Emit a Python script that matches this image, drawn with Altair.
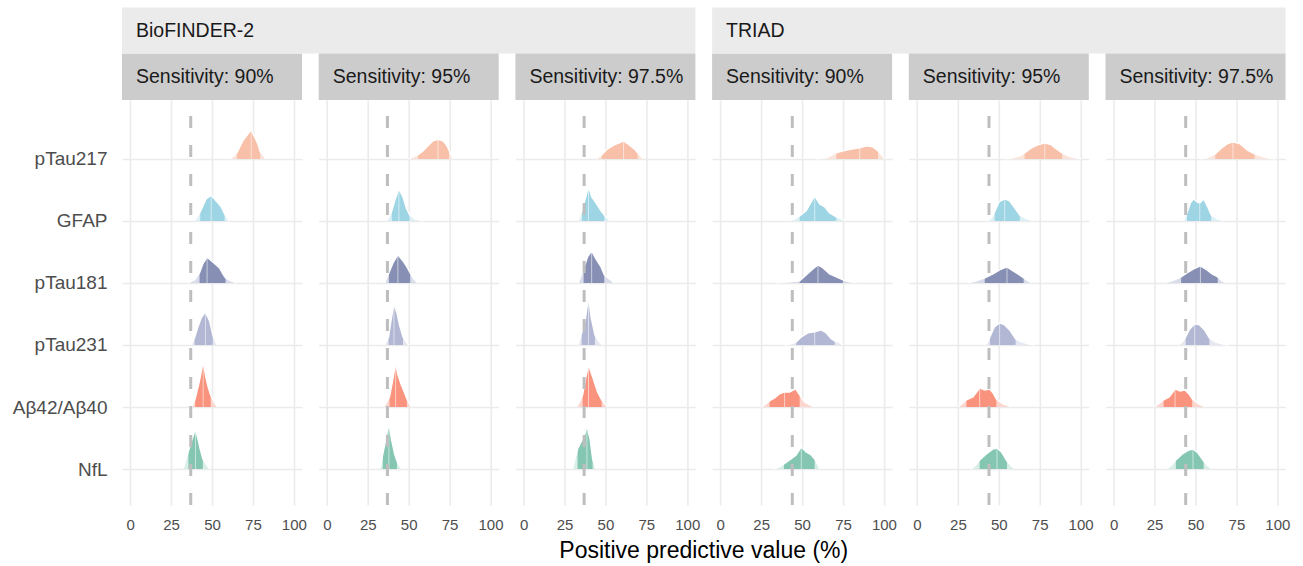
import altair as alt
import pandas as pd

markers = ["pTau217", "GFAP", "pTau181", "pTau231", "Aβ42/Aβ40", "NfL"]
positions = [6, 5, 4, 3, 2, 1]
cohorts = ["BioFINDER-2", "TRIAD"]
sensitivities = ["90%", "95%", "97.5%"]
prevalence = {"BioFINDER-2": 37.0, "TRIAD": 44.0}
x_ticks = [0, 25, 50, 75, 100]

inner_colors = ["#F9C0A9", "#9DD5E4", "#8790B4", "#B2B8D4", "#FA937E", "#84C6B2"]
outer_colors = ["#FDE4DA", "#DCF0F6", "#D9DCEA", "#E6E8F1", "#FDD7CF", "#D8EEE7"]

ROW_PX = 62.0  # ridge heights below are read in pixels of a 62-px row

# each ridge: (x values, heights in px, lower bound, median, upper bound)
bf_90 = {
    "pTau217": ([61.1, 65.2, 68.8, 74.0, 78.0, 79.5, 83.1], [0, 6, 18, 29, 15, 7, 0], 65.2, 74.0, 79.5),
    "GFAP": ([39.9, 42.8, 46.4, 49.5, 52.5, 55.6, 57.7, 60.3], [1, 9, 22, 25.7, 20, 14, 7, 0], 42.8, 49.5, 57.7),
    "pTau181": ([35.3, 39.3, 42.4, 44.4, 47.0, 50.5, 54.6, 56.6, 58.3, 61.7, 64.8], [0, 3, 10, 19, 25.7, 21, 15, 9, 5, 2, 0], 42.4, 47.0, 58.3),
    "pTau231": ([37.3, 39.3, 41.4, 43.4, 46.0, 48.5, 50.5, 53.0], [0, 7, 18, 27, 33, 24, 10, 0], 39.3, 46.0, 50.5),
    "Aβ42/Aβ40": ([37.7, 39.7, 42.2, 44.6, 46.2, 47.8, 49.2, 51.2, 53.2], [0, 8, 25, 45, 30, 19, 12, 5, 0], 39.7, 44.6, 49.2),
    "NfL": ([32.6, 35.6, 37.9, 39.9, 41.4, 42.8, 44.4, 46.4, 48.5], [1, 18, 30, 40, 30, 20, 10, 5, 0], 35.6, 39.9, 44.4),
}
bf_95 = {
    "pTau217": ([50.1, 52.6, 55.6, 58.7, 61.7, 64.8, 67.9, 70.9, 73.0, 74.6, 77.0], [0, 2, 4, 8, 13, 18, 19.5, 18, 14, 9, 0], 55.6, 67.9, 74.6),
    "GFAP": ([37.1, 39.7, 41.8, 44.0, 46.5, 48.5, 50.5, 53.6, 58.7], [1, 10, 22, 32, 24, 13, 6, 2, 0], 39.7, 44.0, 50.5),
    "pTau181": ([35.3, 37.9, 40.4, 43.4, 46.5, 48.9, 50.9, 53.0, 55.6], [0, 10, 20, 28, 22, 16, 10, 4, 0], 37.9, 43.4, 50.9),
    "pTau231": ([35.3, 37.7, 39.3, 41.0, 42.8, 44.4, 46.5, 48.5, 50.1], [0, 8, 25, 41, 32, 20, 8, 3, 0], 37.7, 41.0, 46.5),
    "Aβ42/Aβ40": ([34.9, 38.3, 40.4, 42.0, 43.4, 45.5, 47.5, 48.9, 51.6], [0, 10, 28, 44, 32, 22, 14, 8, 0], 38.3, 42.0, 48.9),
    "NfL": ([32.6, 34.2, 36.3, 37.9, 39.7, 41.4, 42.8, 44.4, 46.1], [1, 15, 32, 45, 28, 15, 8, 3, 0], 34.2, 37.9, 42.8),
}
bf_975 = {
    "pTau217": ([44.2, 47.7, 51.3, 55.4, 58.5, 61.1, 64.6, 67.6, 69.7, 73.3], [0, 4, 10, 14, 16, 18, 14, 10, 6, 0], 47.7, 61.1, 69.7),
    "GFAP": ([33.4, 35.7, 37.7, 39.7, 41.6, 44.2, 47.3, 49.3, 53.0], [0, 10, 22, 34, 24, 18, 10, 6, 0], 35.7, 39.7, 49.3),
    "pTau181": ([33.4, 36.7, 39.1, 41.6, 44.2, 47.3, 49.3, 52.4, 55.4], [0, 14, 26, 32, 24, 16, 8, 4, 0], 36.7, 41.6, 49.3),
    "pTau231": ([33.4, 35.5, 37.7, 39.7, 41.2, 43.6, 46.3, 48.3], [0, 12, 25, 48, 28, 10, 3, 0], 35.5, 39.7, 43.6),
    "Aβ42/Aβ40": ([33.0, 36.1, 38.1, 39.7, 42.2, 45.2, 47.7, 51.3], [1, 12, 30, 42, 30, 15, 7, 0], 36.1, 39.7, 47.7),
    "NfL": ([29.9, 33.0, 35.5, 37.1, 38.7, 40.6, 42.2, 44.2], [0, 20, 28, 33, 43, 30, 10, 0], 33.0, 38.7, 42.2),
}
triad_90 = {
    "pTau217": ([58.7, 64.8, 70.9, 75.0, 81.1, 85.2, 89.3, 93.3, 96.4, 100.5], [0, 1, 6, 8, 10, 11, 13, 12, 8, 0], 70.9, 85.2, 96.4),
    "GFAP": ([41.9, 45.4, 48.5, 52.5, 55.6, 57.7, 60.7, 63.8, 66.8, 70.9, 73.9, 77.0], [0, 2, 5, 10, 19, 25, 17, 14, 8, 4, 2, 0], 48.5, 57.7, 70.9),
    "pTau181": ([34.2, 42.4, 48.5, 52.5, 56.6, 59.7, 62.8, 66.8, 70.9, 75.0, 79.1, 83.1], [0, 1, 2, 8, 14, 18, 15, 9, 6, 3, 1, 0], 48.5, 59.7, 75.0),
    "pTau231": ([39.3, 43.4, 46.4, 49.5, 53.6, 57.7, 61.7, 64.8, 67.9, 69.9, 73.0, 75.0], [0, 1, 3, 8, 12, 13, 15, 12, 6, 4, 2, 0], 46.4, 57.7, 69.9),
    "Aβ42/Aβ40": ([25.0, 27.1, 30.1, 33.2, 36.2, 39.3, 42.4, 46.0, 48.5, 51.5, 54.6, 57.7], [0, 2, 6, 9, 13, 15, 15, 18, 12, 5, 2, 0], 30.1, 39.3, 48.5),
    "NfL": ([32.6, 36.2, 38.9, 42.4, 46.4, 49.5, 52.5, 55.6, 57.7, 59.7, 60.7], [0, 2, 5, 9, 14, 22, 17, 14, 10, 4, 0], 38.9, 49.5, 57.7),
}
triad_95 = {
    "pTau217": ([53.6, 58.7, 62.8, 65.8, 69.9, 74.0, 78.1, 82.1, 85.2, 88.7, 92.3, 96.4, 100.4], [0, 1, 3, 6, 11, 14, 16, 14, 10, 6, 3, 1, 0], 65.8, 78.1, 88.7),
    "GFAP": ([42.8, 45.5, 47.5, 50.1, 53.6, 56.6, 59.7, 62.8, 65.8, 70.9], [0, 3, 9, 19, 22, 20, 13, 6, 3, 0], 47.5, 53.6, 62.8),
    "pTau181": ([31.2, 36.3, 41.4, 46.5, 50.5, 55.0, 58.7, 61.7, 65.2, 67.9, 69.9], [0, 2, 5, 9, 13, 16, 12, 9, 5, 2, 0], 41.4, 55.0, 65.2),
    "pTau231": ([41.8, 43.2, 44.6, 47.3, 50.5, 53.6, 56.6, 60.3, 63.8, 67.9, 71.9], [0, 3, 8, 18, 22, 20, 15, 6, 3, 1, 0], 44.6, 50.5, 60.3),
    "Aβ42/Aβ40": ([25.1, 28.1, 30.2, 34.2, 38.3, 41.4, 44.4, 46.5, 48.5, 52.6, 57.7], [0, 4, 7, 10, 19, 17, 18, 14, 8, 3, 0], 30.2, 38.3, 48.5),
    "NfL": ([33.2, 35.9, 38.3, 42.4, 46.5, 48.9, 51.6, 55.0, 57.7, 59.7], [0, 4, 9, 15, 20, 21, 17, 8, 3, 0], 38.3, 48.9, 55.0),
}
triad_975 = {
    "pTau217": ([53.0, 57.0, 62.1, 65.2, 69.3, 72.9, 77.4, 81.5, 86.1, 89.6, 93.7, 98.8], [0, 1, 5, 10, 15, 17, 15, 9, 5, 3, 1, 0], 62.1, 72.9, 86.1),
    "GFAP": ([42.8, 44.8, 46.9, 48.9, 50.9, 52.6, 55.0, 57.5, 59.5, 63.2, 67.2], [0, 8, 18, 22, 19, 18, 22, 14, 6, 2, 0], 44.8, 52.6, 59.5),
    "pTau181": ([30.6, 35.7, 41.2, 44.8, 48.9, 53.0, 57.0, 60.1, 63.6, 66.2, 68.3], [0, 2, 6, 10, 14, 17, 13, 9, 6, 2, 0], 41.2, 53.0, 63.6),
    "pTau231": ([39.5, 42.0, 44.0, 46.5, 49.5, 52.5, 55.5, 58.5, 62.0, 66.0, 70.0], [0, 3, 8, 16, 21, 20, 15, 7, 3, 1, 0], 44.0, 49.5, 58.5),
    "Aβ42/Aβ40": ([25.0, 28.0, 30.5, 34.0, 37.5, 40.5, 43.5, 46.0, 48.0, 52.0, 56.0], [0, 4, 7, 10, 18, 16, 17, 13, 8, 3, 0], 30.5, 37.5, 48.0),
    "NfL": ([32.5, 35.5, 38.0, 42.0, 46.0, 48.5, 51.5, 55.0, 57.5, 60.0], [0, 4, 9, 15, 19, 20, 16, 8, 3, 0], 38.0, 48.5, 55.0),
}
ridges = {
    ("BioFINDER-2", "90%"): bf_90, ("BioFINDER-2", "95%"): bf_95, ("BioFINDER-2", "97.5%"): bf_975,
    ("TRIAD", "90%"): triad_90, ("TRIAD", "95%"): triad_95, ("TRIAD", "97.5%"): triad_975,
}

PANEL_W = 180
PANEL_H = 405
SPACING = 16.7
label_expr = "['', 'NfL', 'Aβ42/Aβ40', 'pTau231', 'pTau181', 'GFAP', 'pTau217'][datum.value]"
FONT = "Liberation Sans"


def panel(cohort, sens, first_in_row, first_in_group, title_panel):
    rows, meds = [], []
    for m, pos, ci, co in zip(markers, positions, inner_colors, outer_colors):
        xs, hs, lo, med, hi = ridges[(cohort, sens)][m]
        for xv, hv in zip(xs, hs):
            rows.append({"marker": m, "x": xv, "base": pos, "top": pos + hv / ROW_PX,
                         "inner": bool(lo <= xv <= hi), "ci": ci, "co": co})
            if xv == med:
                meds.append({"marker": m, "x": xv, "base": pos, "top": pos + hv / ROW_PX})
    df = pd.DataFrame(rows)
    dmed = pd.DataFrame(meds)

    xenc = alt.X("x:Q", scale=alt.Scale(domain=[-5, 105], nice=False, zero=False),
                 axis=alt.Axis(values=x_ticks, title=None, domain=False, ticks=False,
                               grid=True, gridColor="#EBEBEB", gridWidth=1.6,
                               labelColor="#4D4D4D", labelFontSize=15, labelFont=FONT,
                               labelPadding=12))
    yaxis = alt.Axis(values=[1, 2, 3, 4, 5, 6], title=None, domain=False, ticks=False,
                     grid=True, gridColor="#EBEBEB", gridWidth=1.6,
                     labels=first_in_row, labelExpr=label_expr, labelColor="#4D4D4D",
                     labelFontSize=19, labelFont=FONT, labelPadding=15)
    yenc = alt.Y("top:Q", stack=None, scale=alt.Scale(domain=[0.42, 6.95], nice=False, zero=False),
                 axis=yaxis)

    base = alt.Chart(df)
    outer = base.mark_area(interpolate="linear").encode(
        x=xenc, y=yenc, y2="base:Q", fill=alt.Fill("co:N", scale=None), detail="marker:N")
    inner = base.transform_filter("datum.inner").mark_area(interpolate="linear").encode(
        x="x:Q", y=alt.Y("top:Q", stack=None), y2="base:Q", fill=alt.Fill("ci:N", scale=None),
        detail="marker:N")
    outline = base.mark_line(color="white", strokeWidth=1.3).encode(
        x="x:Q", y=alt.Y("top:Q", stack=None), detail="marker:N")
    median = alt.Chart(dmed).mark_rule(color="white", opacity=0.55, strokeWidth=1).encode(
        x="x:Q", y="top:Q", y2="base:Q")
    dash = alt.Chart(pd.DataFrame({"x": [prevalence[cohort]]})).mark_rule(
        color="#BEBEBE", strokeWidth=3, strokeDash=[12, 17]).encode(
        x="x:Q", y=alt.value(PANEL_H), y2=alt.value(0))

    one = pd.DataFrame({"k": [0]})
    strip = alt.Chart(one).mark_rect(color="#CCCCCC").encode(
        x=alt.value(0), x2=alt.value(PANEL_W), y=alt.value(-46.5), y2=alt.value(0))
    strip_txt = alt.Chart(one).mark_text(align="left", baseline="middle", fontSize=19.5,
                                         font=FONT, color="#1A1A1A").encode(
        x=alt.value(14), y=alt.value(-23), text=alt.value("Sensitivity: " + sens))
    layers = [outer, inner, outline, median, dash, strip, strip_txt]
    if first_in_group:
        cw = PANEL_W * 3 + SPACING * 2
        cstrip = alt.Chart(one).mark_rect(color="#EBEBEB").encode(
            x=alt.value(0), x2=alt.value(cw), y=alt.value(-92.5), y2=alt.value(-46.5))
        ctxt = alt.Chart(one).mark_text(align="left", baseline="middle", fontSize=19.5,
                                        font=FONT, color="#1A1A1A").encode(
            x=alt.value(14), y=alt.value(-69), text=alt.value(cohort))
        layers += [cstrip, ctxt]
    if title_panel:
        ttl = alt.Chart(one).mark_text(align="center", baseline="middle", fontSize=23,
                                       font=FONT, color="#000000").encode(
            x=alt.value(-SPACING / 2), y=alt.value(PANEL_H + 46),
            text=alt.value("Positive predictive value (%)"))
        layers.append(ttl)
    return alt.layer(*layers).properties(width=PANEL_W, height=PANEL_H)


panels = []
for ci_, c in enumerate(cohorts):
    for si, s in enumerate(sensitivities):
        panels.append(panel(c, s, ci_ == 0 and si == 0, si == 0, ci_ == 1 and si == 0))

chart = alt.hconcat(*panels, spacing=SPACING, bounds="flush").properties(
    padding={"left": 12, "top": 7, "right": 5, "bottom": 5}
).configure_view(stroke=None)

chart.save("out.html", embed_options={"renderer": "svg", "actions": False})
